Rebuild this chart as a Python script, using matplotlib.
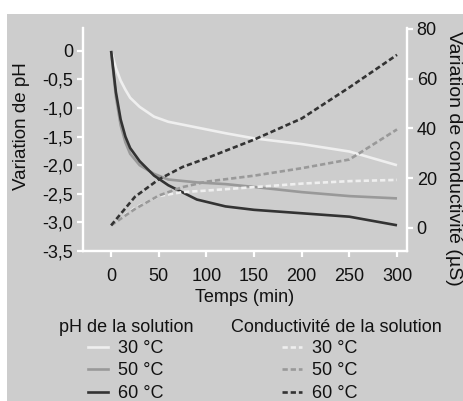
import matplotlib
matplotlib.use("Agg")
import matplotlib.pyplot as plt
from matplotlib.patches import Rectangle
from matplotlib.lines import Line2D

plt.rcParams['font.family'] = ['Liberation Sans', 'DejaVu Sans']

# Data
t = [0, 5, 10, 15, 20, 30, 45, 60, 90, 120, 150, 200, 250, 300]
ph_30 = [0.0, -0.3, -0.52, -0.68, -0.82, -0.98, -1.15, -1.24, -1.34, -1.44, -1.53, -1.63, -1.76, -2.0]
ph_50 = [0.0, -0.8, -1.3, -1.6, -1.8, -2.0, -2.15, -2.25, -2.3, -2.33, -2.38, -2.47, -2.54, -2.58]
ph_60 = [0.0, -0.72, -1.2, -1.5, -1.7, -1.93, -2.18, -2.35, -2.6, -2.72, -2.78, -2.84, -2.9, -3.05]

tc = [0, 25, 50, 75, 100, 150, 200, 250, 300]
cond_30 = [1, 8, 12.8, 14.4, 15.0, 16.4, 17.8, 18.8, 19.3]
cond_50 = [1, 7.6, 13.0, 16.4, 18.6, 21.0, 24.0, 27.5, 39.6]
cond_60 = [1, 12.5, 19.5, 24.5, 28.0, 35.5, 44.0, 56.5, 69.6]

temps = ['30 °C', '50 °C', '60 °C']
colors = ['#efefef', '#999999', '#333333']
ph_title = 'pH de la solution'
cond_title = 'Conductivité de la solution'

W, H = 464, 401
txt = '#111111'
fig = plt.figure(figsize=(W / 100, H / 100), dpi=100, facecolor='white')
fig.patches.append(Rectangle((7 / W, 0), 1 - 7 / W, 1 - 14 / H, transform=fig.transFigure,
                             facecolor='#cdcdcd', edgecolor='none', zorder=-10))

ax = fig.add_axes([83 / W, 1 - 251 / H, (407 - 83) / W, (251 - 28) / H])
ax.set_facecolor('none')
ax2 = ax.twinx()
ax2.set_facecolor('none')

fs = 13
lw = 1.9
dash = (2, 1.1)
for ys, c in zip([ph_30, ph_50, ph_60], colors):
    ax.plot(t, ys, color=c, lw=lw, solid_capstyle='butt')
for ys, c in zip([cond_30, cond_50, cond_60], colors):
    ax2.plot(tc, ys, color=c, lw=lw, dashes=dash)

ax.set_xlim(-29.5, 310.5)
ax.set_ylim(-3.5, 0.4)
ax2.set_ylim(-9.3, 80.4)

ax.set_xticks([0, 50, 100, 150, 200, 250, 300])
ax.set_yticks([0, -0.5, -1, -1.5, -2, -2.5, -3, -3.5])
ax.set_yticklabels(['0', '-0,5', '-1,0', '-1,5', '-2,0', '-2,5', '-3,0', '-3,5'])
ax2.set_yticks([0, 20, 40, 60, 80])

for a in (ax, ax2):
    for s in a.spines.values():
        s.set_color('white')
        s.set_linewidth(1.6)
    a.spines['top'].set_visible(False)
    a.tick_params(colors='white', width=1.6, length=4, labelsize=fs, labelcolor=txt, pad=3)
ax.tick_params(axis='x', pad=8)

ax.set_xlabel('Temps (min)', fontsize=fs, color=txt, labelpad=3)
fig.text(22 / W, 1 - 126 / H, 'Variation de pH', fontsize=13.5, color=txt, rotation=90,
         ha='center', va='center')
fig.text(454 / W, 1 - 158 / H, 'Variation de conductivité (µS)', fontsize=14, color=txt,
         rotation=270, ha='center', va='center')

# Legends
fig.text(126 / W, 1 - 328 / H, ph_title, fontsize=fs, color=txt, ha='center', va='center')
fig.text(336 / W, 1 - 328 / H, cond_title, fontsize=fs, color=txt, ha='center', va='center')
h1 = [Line2D([], [], color=c, lw=lw) for c in colors]
h2 = [Line2D([], [], color=c, lw=lw, dashes=dash) for c in colors]
common = dict(frameon=False, fontsize=fs, handlelength=1.1, labelcolor=txt,
              handletextpad=0.55, labelspacing=0.3, borderpad=0, borderaxespad=0,
              loc='upper left')
fig.legend(h1, temps, bbox_to_anchor=(88 / W, 1 - 340 / H), **common)
fig.legend(h2, temps, bbox_to_anchor=(282 / W, 1 - 340 / H), **common)

fig.savefig('out.png', dpi=100, facecolor='white')
